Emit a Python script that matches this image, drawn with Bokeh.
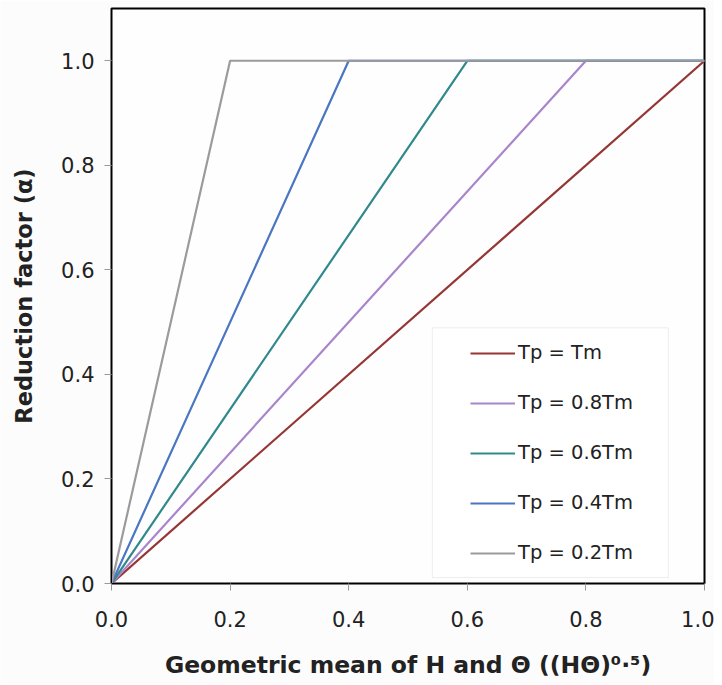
from bokeh.plotting import figure
from bokeh.models import (FixedTicker, PrintfTickFormatter, Range1d, Legend,
                          LegendItem, BoxAnnotation)
from bokeh.embed import file_html
from bokeh.resources import INLINE

# ---- data ----
series_names = ["Tp = Tm", "Tp = 0.8Tm", "Tp = 0.6Tm", "Tp = 0.4Tm", "Tp = 0.2Tm"]
x_tm = [0.0, 1.0]
y_tm = [0.0, 1.0]
x_08 = [0.0, 0.8, 1.0]
y_08 = [0.0, 1.0, 1.0]
x_06 = [0.0, 0.6, 1.0]
y_06 = [0.0, 1.0, 1.0]
x_04 = [0.0, 0.4, 1.0]
y_04 = [0.0, 1.0, 1.0]
x_02 = [0.0, 0.2, 1.0]
y_02 = [0.0, 1.0, 1.0]
xs = [x_tm, x_08, x_06, x_04, x_02]
ys = [y_tm, y_08, y_06, y_04, y_02]
colors = ["#943634", "#A985CC", "#31898C", "#4A76C2", "#9B9B9B"]
x_ticks = [0.0, 0.2, 0.4, 0.6, 0.8, 1.0]
y_ticks = [0.0, 0.2, 0.4, 0.6, 0.8, 1.0]

FONT = "DejaVu Sans"

p = figure(width=714, height=684, output_backend="svg", toolbar_location=None,
           x_range=Range1d(0, 1.0), y_range=Range1d(0, 1.1),
           min_border_left=111, min_border_right=10, min_border_top=8,
           min_border_bottom=101)
p.background_fill_color = "#FEFEFE"
p.border_fill_color = "#FCFCFC"
p.grid.visible = False
p.outline_line_color = "black"
p.outline_line_width = 2

for ax in (p.xaxis[0], p.yaxis[0]):
    ax.axis_line_color = "black"
    ax.major_tick_line_color = "#999999"
    ax.major_tick_out = 7
    ax.major_tick_in = 0
    ax.minor_tick_line_color = None
    ax.formatter = PrintfTickFormatter(format="%.1f")
    ax.major_label_text_font = FONT
    ax.major_label_text_font_size = "21px"
    ax.major_label_text_color = "#222222"
    ax.axis_label_text_font = FONT
    ax.axis_label_text_font_style = "bold"
    ax.axis_label_text_color = "#222222"

p.xaxis[0].ticker = FixedTicker(ticks=x_ticks)
p.yaxis[0].ticker = FixedTicker(ticks=y_ticks)
p.xaxis[0].major_label_standoff = 20
p.yaxis[0].major_label_standoff = 10

p.yaxis[0].axis_label = "Reduction factor (\u03b1)"
p.yaxis[0].axis_label_text_font_size = "22.5px"
p.yaxis[0].axis_label_standoff = 21

p.xaxis[0].axis_label = "Geometric mean of H and \u0398 ((H\u0398)\u2070\u00b7\u2075)"
p.xaxis[0].axis_label_text_font_size = "23.5px"
p.xaxis[0].axis_label_standoff = 21

# legend box (style element)
p.add_layout(BoxAnnotation(left=0.541, right=0.939, bottom=0.0115, top=0.489,
                           fill_color="white", fill_alpha=1.0,
                           line_color="#C8C8C8", line_width=1, level="overlay"))

items = []
for name, x, y, c in zip(series_names, xs, ys, colors):
    r = p.line(x, y, line_color=c, line_width=2.2)
    items.append(LegendItem(label=name, renderers=[r]))

legend = Legend(items=items, location=(344, 4), padding=15, spacing=27,
                label_height=20, glyph_height=20, glyph_width=45,
                label_standoff=3, label_text_font=FONT,
                label_text_font_size="19.5px", label_text_color="#222222",
                background_fill_alpha=0.0, border_line_alpha=0.0)
p.add_layout(legend)

open("out.html", "w").write(file_html(p, INLINE))
